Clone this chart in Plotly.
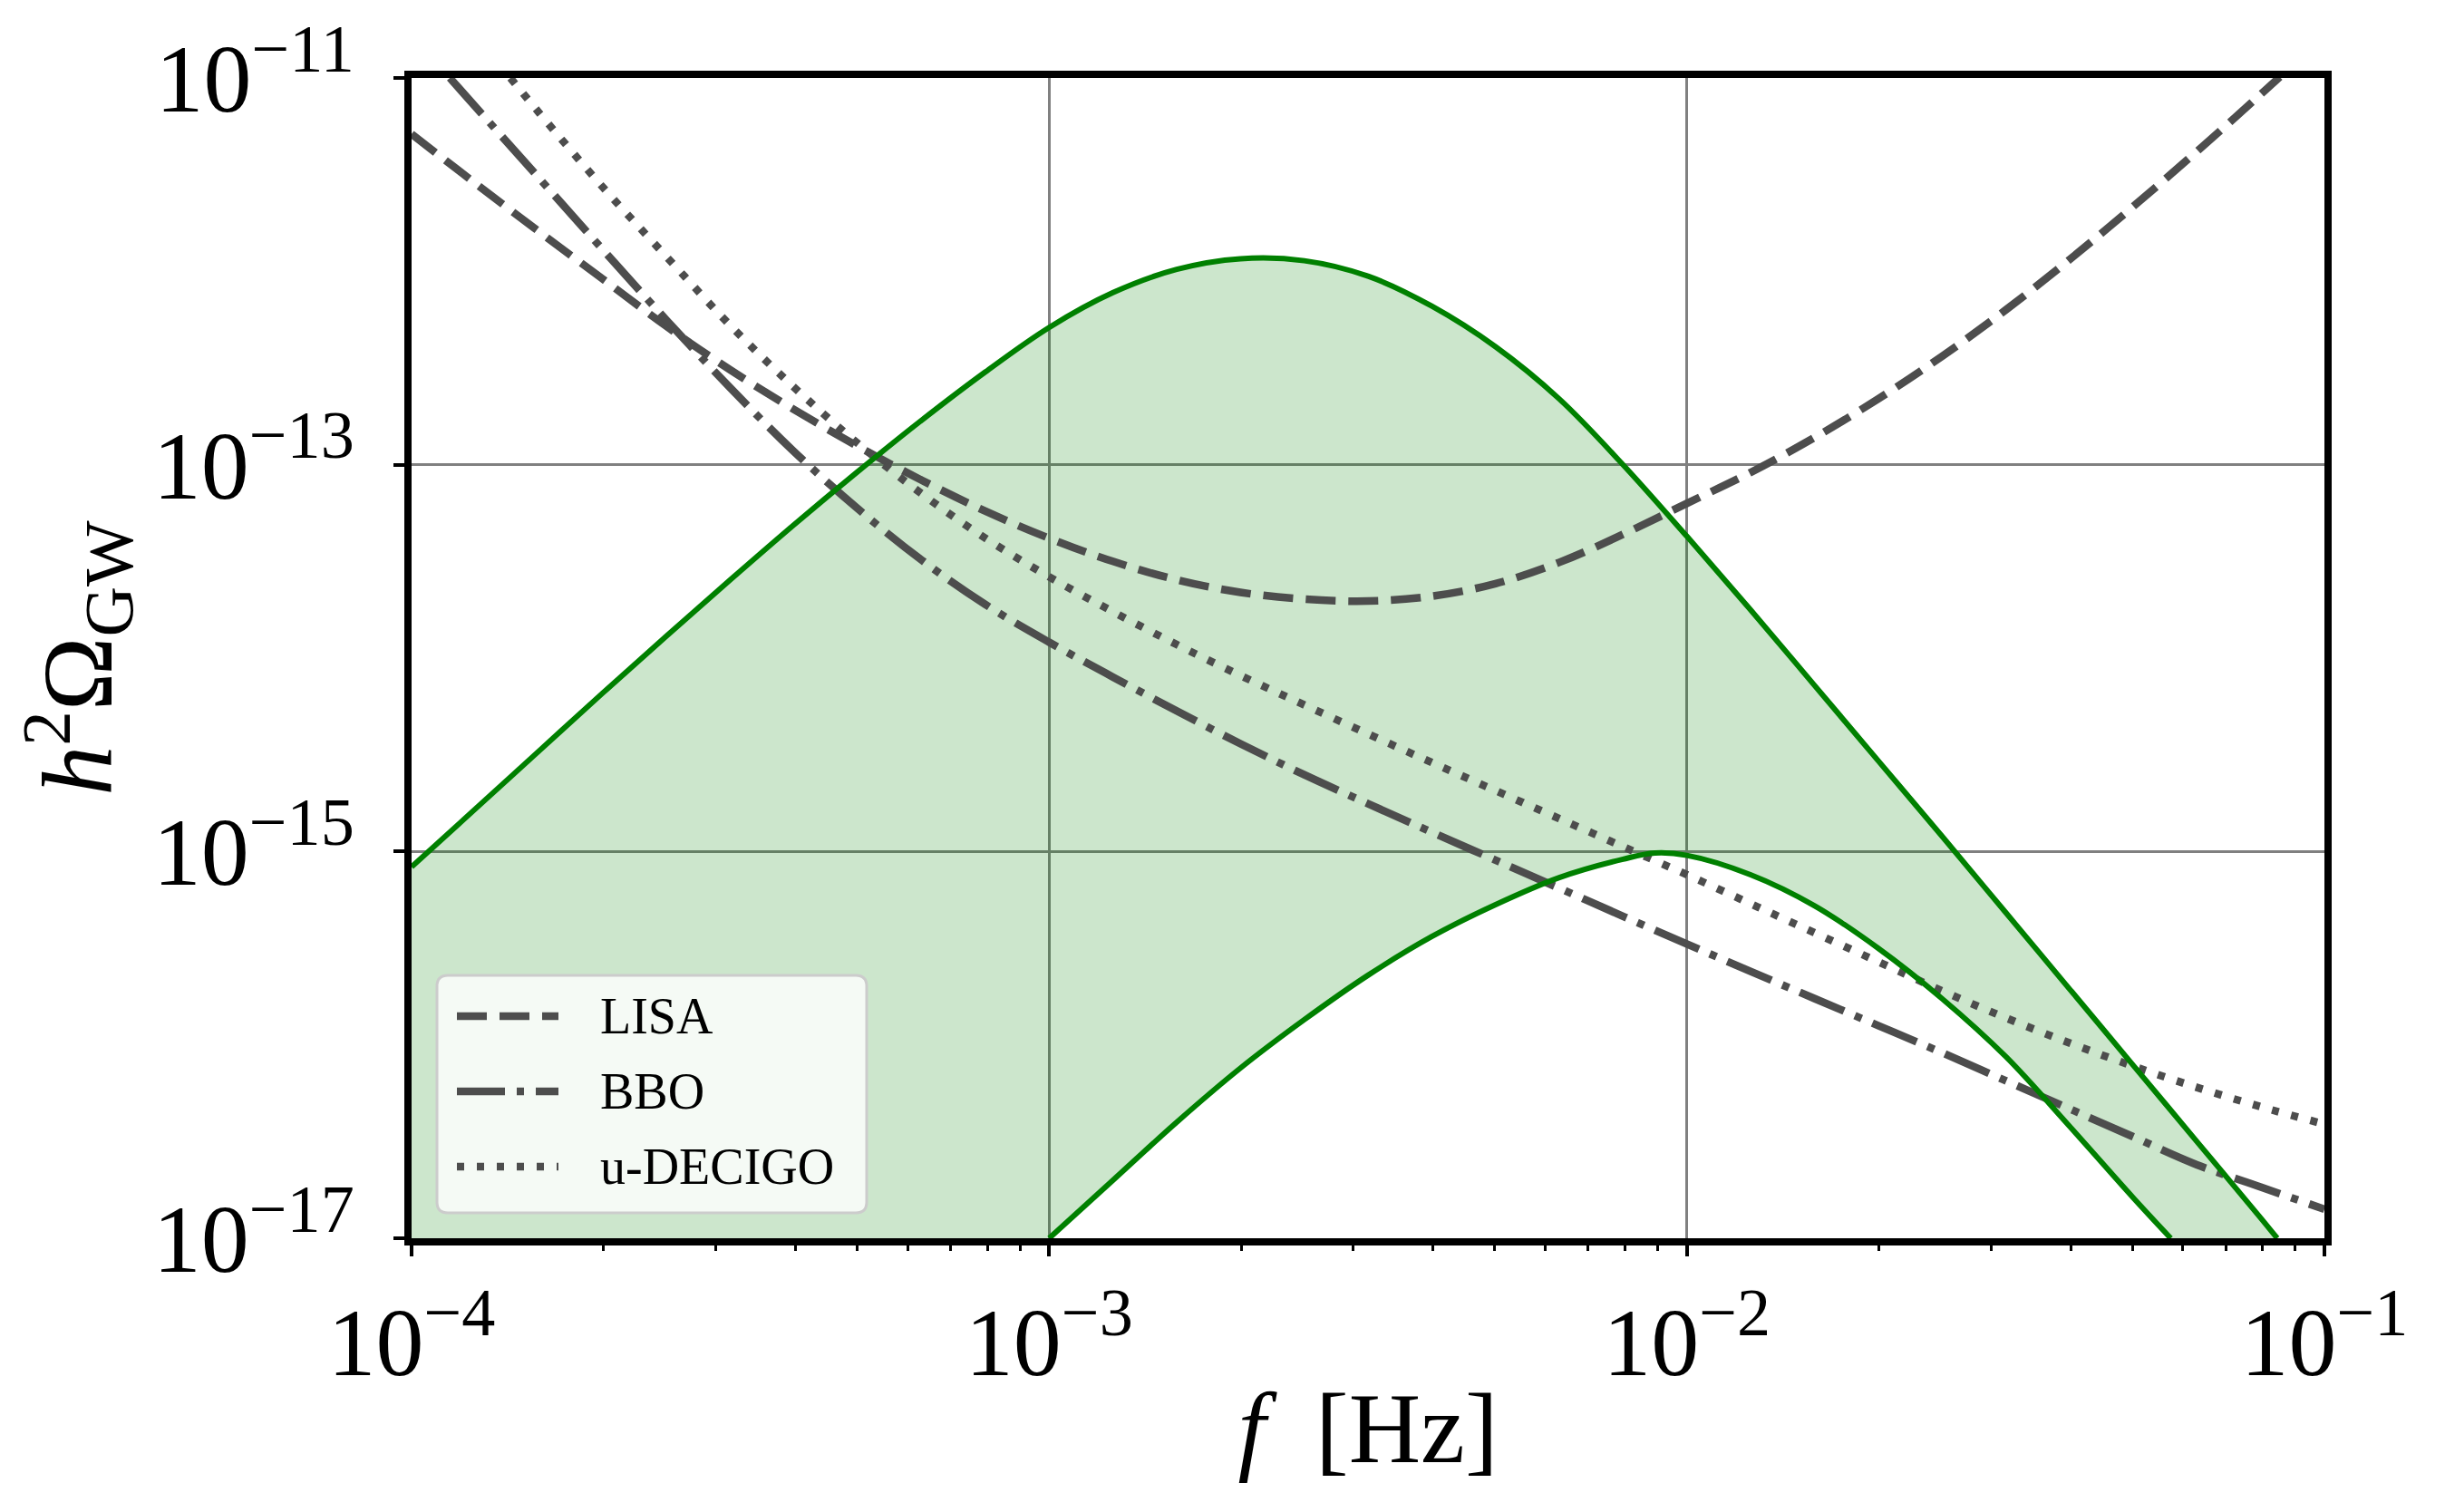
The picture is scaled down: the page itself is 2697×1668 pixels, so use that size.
import numpy as np
import plotly.graph_objects as go

# values, stored as log10(f / Hz) and log10(h^2 Omega_GW)
band_top_logf = [-4.0, -3.9, -3.8, -3.7, -3.6, -3.5, -3.4, -3.3, -3.2, -3.1, -3.0, -2.9, -2.8,
                 -2.7, -2.6, -2.5, -2.4, -2.3, -2.2, -2.1, -2.0, -1.9, -1.8, -1.7, -1.6, -1.5,
                 -1.4, -1.3, -1.2, -1.1, -1.074]
band_top_logo = [-15.08, -14.78, -14.48, -14.18, -13.885, -13.595, -13.31, -13.035, -12.77, -12.52,
                 -12.29, -12.11, -11.99, -11.935, -11.945, -12.025, -12.18, -12.39, -12.66, -13.0,
                 -13.37, -13.75, -14.14, -14.53, -14.92, -15.315, -15.71, -16.105, -16.5, -16.895,
                 -17.0]

band_bot_logf = [-3.0, -2.9, -2.8, -2.7, -2.6, -2.5, -2.4, -2.3, -2.2, -2.1, -2.05, -2.0, -1.9,
                 -1.8, -1.7, -1.6, -1.5, -1.4, -1.3, -1.241]
band_bot_logo = [-17.0, -16.70, -16.40, -16.12, -15.87, -15.64, -15.44, -15.275, -15.135, -15.04,
                 -15.008, -15.02, -15.12, -15.28, -15.5, -15.76, -16.06, -16.42, -16.79, -17.0]

lisa_logf = [-4.0, -3.9, -3.8, -3.7, -3.6, -3.5, -3.4, -3.3, -3.2, -3.1, -3.0, -2.9, -2.8, -2.7,
             -2.6, -2.5, -2.4, -2.3, -2.2, -2.1, -2.0, -1.9, -1.8, -1.7, -1.6, -1.5, -1.4, -1.3,
             -1.2, -1.1, -1.07]
lisa_logo = [-11.29, -11.545, -11.795, -12.04, -12.285, -12.51, -12.715, -12.905, -13.08, -13.24,
             -13.38, -13.5, -13.595, -13.66, -13.695, -13.705, -13.68, -13.615, -13.505, -13.36,
             -13.20, -13.04, -12.86, -12.66, -12.44, -12.2, -11.94, -11.665, -11.38, -11.085,
             -10.995]

bbo_logf = [-3.94, -3.9, -3.8, -3.7, -3.6, -3.5, -3.4, -3.3, -3.2, -3.1, -3.0, -2.9, -2.8, -2.7,
            -2.6, -2.5, -2.4, -2.3, -2.2, -2.1, -2.0, -1.9, -1.8, -1.7, -1.6, -1.5, -1.4, -1.3,
            -1.2, -1.1, -1.0]
bbo_logo = [-11.0, -11.148, -11.518, -11.888, -12.253, -12.603, -12.933, -13.228, -13.493, -13.723,
            -13.918, -14.098, -14.273, -14.443, -14.603, -14.753, -14.90, -15.045, -15.19, -15.335,
            -15.478, -15.62, -15.76, -15.90, -16.04, -16.185, -16.33, -16.475, -16.62, -16.735,
            -16.85]

decigo_logf = [-3.845, -3.8, -3.7, -3.6, -3.5, -3.4, -3.3, -3.2, -3.1, -3.0, -2.9, -2.8, -2.7,
               -2.6, -2.5, -2.4, -2.3, -2.2, -2.1, -2.0, -1.9, -1.8, -1.7, -1.6, -1.5, -1.4,
               -1.3, -1.2, -1.1, -1.0]
decigo_logo = [-11.0, -11.18, -11.565, -11.925, -12.28, -12.60, -12.89, -13.15, -13.38, -13.58,
               -13.76, -13.93, -14.09, -14.242, -14.392, -14.54, -14.685, -14.83, -14.975, -15.12,
               -15.27, -15.42, -15.57, -15.72, -15.86, -15.99, -16.11, -16.22, -16.32, -16.41]

detectors = ["LISA", "BBO", "u-DECIGO"]

x_ticks = [1e-4, 1e-3, 1e-2, 1e-1]
x_ticktext = ["10<sup>\u22124</sup>", "10<sup>\u22123</sup>", "10<sup>\u22122</sup>", "10<sup>\u22121</sup>"]
y_ticks = [1e-17, 1e-15, 1e-13, 1e-11]
y_ticktext = ["10<sup>\u221217</sup>", "10<sup>\u221215</sup>", "10<sup>\u221213</sup>", "10<sup>\u221211</sup>"]
x_minor = [k * 10.0 ** e for e in (-4, -3, -2) for k in range(2, 10)]

F_MIN, OMEGA_MIN = 1e-4, 1e-17


def p10(a):
    return 10.0 ** np.asarray(a, dtype=float)


FONT = "Liberation Serif"
GREY = "#4d4d4d"
GREEN = "#008000"

fig = go.Figure()

# shaded band, closed along the bottom of the axes
fill_x = np.concatenate([p10(band_top_logf), p10(band_bot_logf)[::-1], [F_MIN]])
fill_y = np.concatenate([p10(band_top_logo), p10(band_bot_logo)[::-1], [OMEGA_MIN]])
fig.add_trace(go.Scatter(x=fill_x, y=fill_y, mode="lines", fill="toself",
                         fillcolor="rgba(0,128,0,0.2)", line=dict(width=0),
                         showlegend=False, hoverinfo="skip"))

styles = {"LISA": "33px,14px", "BBO": "53px,13px,8px,13px", "u-DECIGO": "8px,14px"}
curves = {"LISA": (lisa_logf, lisa_logo), "BBO": (bbo_logf, bbo_logo),
          "u-DECIGO": (decigo_logf, decigo_logo)}
for name in detectors:
    lf, lo = curves[name]
    fig.add_trace(go.Scatter(x=p10(lf), y=p10(lo), mode="lines", name=name,
                             line=dict(color=GREY, width=8.5, dash=styles[name],
                                       shape="spline", smoothing=1.0),
                             showlegend=False))

for lf, lo in [(band_top_logf, band_top_logo), (band_bot_logf, band_bot_logo)]:
    fig.add_trace(go.Scatter(x=p10(lf), y=p10(lo), mode="lines",
                             line=dict(color=GREEN, width=6, shape="spline", smoothing=1.0),
                             showlegend=False))

# geometry of the plotting area in pixels
W, H = 2697, 1668
L, R, T, B = 446, 2556, 78, 1358


def px_x(X):
    return (X - L) / (R - L)


def px_y(Y):
    return (B - Y) / (B - T)


# legend drawn by hand (rounded box, long line samples)
x0, x1 = px_x(474), px_x(948)
y0, y1 = px_y(1330), px_y(1068)
rx, ry = 12 / (R - L), 12 / (B - T)
box = (f"M{x0+rx},{y0} L{x1-rx},{y0} Q{x1},{y0} {x1},{y0+ry} L{x1},{y1-ry} "
       f"Q{x1},{y1} {x1-rx},{y1} L{x0+rx},{y1} Q{x0},{y1} {x0},{y1-ry} "
       f"L{x0},{y0+ry} Q{x0},{y0} {x0+rx},{y0} Z")
shapes = [dict(type="path", path=box, xref="paper", yref="paper",
               fillcolor="rgba(255,255,255,0.8)", line=dict(color="#cccccc", width=3))]
annotations = []
for i, name in enumerate(detectors):
    yy = px_y(1113 + 83 * i)
    shapes.append(dict(type="line", xref="paper", yref="paper", x0=px_x(496), x1=px_x(608),
                       y0=yy, y1=yy, line=dict(color=GREY, width=8.5, dash=styles[name])))
    annotations.append(dict(text=name, xref="paper", yref="paper", x=px_x(652), y=yy,
                            xanchor="left", yanchor="middle", showarrow=False,
                            font=dict(family=FONT, size=56, color="black")))

axis_common = dict(type="log", showline=True, linecolor="black", linewidth=8, mirror=True,
                   ticks="outside", ticklen=12, tickwidth=3.5, tickcolor="black",
                   tickfont=dict(family=FONT, size=106, color="black"),
                   showgrid=True, gridcolor="#808080", gridwidth=3, zeroline=False,
                   automargin=False)

fig.update_xaxes(range=[-4, -1], tickvals=x_ticks, ticktext=x_ticktext, ticklabelstandoff=4,
                 minor=dict(tickvals=x_minor, ticks="outside", ticklen=6, tickwidth=3,
                            tickcolor="black", showgrid=False),
                 title=dict(text="<i>f</i>\u2002[Hz]", standoff=0,
                            font=dict(family=FONT, size=110, color="black")),
                 **axis_common)
fig.update_yaxes(range=[-17, -11], tickvals=y_ticks, ticktext=y_ticktext, ticklabelstandoff=22,
                 title=dict(text="<i>h</i><sup>2</sup>\u03a9<sub>GW</sub>", standoff=20,
                            font=dict(family=FONT, size=110, color="black")),
                 **axis_common)

fig.update_layout(width=W, height=H, margin=dict(l=L, r=W - R, t=T, b=H - B),
                  plot_bgcolor="white", paper_bgcolor="white", showlegend=False,
                  shapes=shapes, annotations=annotations)

fig.write_html("out.html")
